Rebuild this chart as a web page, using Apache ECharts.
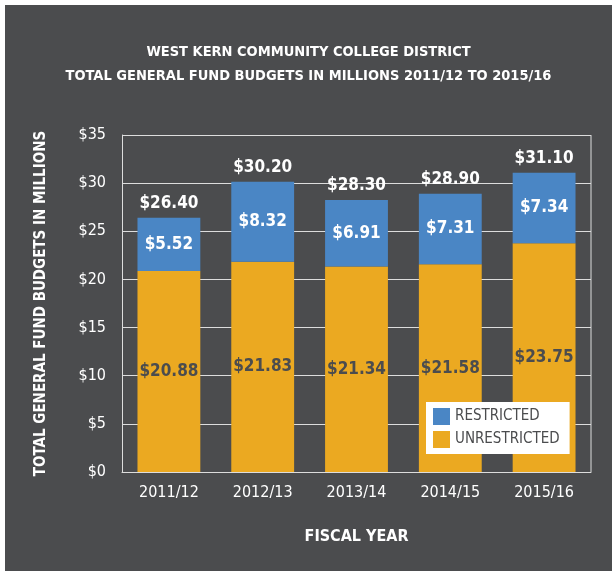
<!DOCTYPE html>
<html>
<head>
<meta charset="utf-8">
<script src="https://cdn.jsdelivr.net/npm/echarts@6/dist/echarts.min.js"></script>
<style>
  html, body { margin: 0; padding: 0; background: #fff; }
  #main { position: absolute; left: 5px; top: 5px; width: 607px; height: 566px; }
</style>
</head>
<body>
<div id="main"></div>
<script>
const years = ['2011/12', '2012/13', '2013/14', '2014/15', '2015/16']
const unrestricted = [20.88, 21.83, 21.34, 21.58, 23.75]
const restricted = [5.52, 8.32, 6.91, 7.31, 7.34]
const totals = ['26.40', '30.20', '28.30', '28.90', '31.10']

const font = '"DejaVu Sans Condensed", "Liberation Sans Narrow", sans-serif'
const bg = '#4b4c4e'

const chart = echarts.init(document.getElementById('main'))
const option = {
  backgroundColor: bg,
  animation: false,
  textStyle: { fontFamily: font },
  title: {
    text: 'WEST KERN COMMUNITY COLLEGE DISTRICT\nTOTAL GENERAL FUND BUDGETS IN MILLIONS 2011/12 TO 2015/16',
    left: 'center',
    top: 30,
    textStyle: { color: '#fff', fontSize: 14.5, fontWeight: 'bold', fontFamily: font, lineHeight: 24 }
  },
  legend: {
    data: ['RESTRICTED', 'UNRESTRICTED'],
    orient: 'vertical',
    left: 421,
    top: 397,
    backgroundColor: '#fff',
    padding: [6, 10, 6, 7],
    itemGap: 6,
    itemWidth: 17,
    itemHeight: 17,
    icon: 'rect',
    textStyle: { color: '#4b4c4e', fontSize: 15, fontFamily: font }
  },
  grid: { left: 117, right: 21, top: 130, bottom: 99 },
  xAxis: {
    type: 'category',
    data: years,
    name: 'FISCAL YEAR',
    nameLocation: 'middle',
    nameGap: 57,
    nameTextStyle: { color: '#fff', fontSize: 16, fontWeight: 'bold' },
    axisLine: { lineStyle: { color: '#ddd', width: 1 } },
    axisTick: { show: false },
    axisLabel: { color: '#fff', fontSize: 16, margin: 13 }
  },
  yAxis: {
    type: 'value',
    min: 0,
    max: 35,
    interval: 5,
    name: 'TOTAL GENERAL FUND BUDGETS IN MILLIONS',
    nameLocation: 'middle',
    nameGap: 73,
    nameTextStyle: { color: '#fff', fontSize: 15, fontWeight: 'bold' },
    axisLine: { show: true, lineStyle: { color: '#ddd' } },
    axisTick: { show: false },
    splitLine: { lineStyle: { color: '#ddd', width: 1 } },
    axisLabel: { color: '#fff', fontSize: 16, margin: 16, formatter: v => '$' + v }
  },
  series: [
    {
      name: 'UNRESTRICTED',
      type: 'bar',
      stack: 'total',
      barWidth: '67%',
      data: unrestricted,
      itemStyle: { color: '#eba921' },
      label: {
        show: true,
        position: 'inside',
        color: '#4b4c4e',
        fontSize: 17,
        fontWeight: 'bold',
        formatter: p => '$' + p.value.toFixed(2)
      }
    },
    {
      name: 'RESTRICTED',
      type: 'bar',
      stack: 'total',
      data: restricted,
      itemStyle: { color: '#4a86c5' },
      label: {
        show: true,
        position: 'inside',
        color: '#fff',
        fontSize: 17,
        fontWeight: 'bold',
        formatter: p => '$' + p.value.toFixed(2)
      }
    },
    {
      name: 'TOTAL',
      type: 'bar',
      stack: 'total',
      data: totals.map(() => 0),
      itemStyle: { color: 'transparent' },
      label: {
        show: true,
        position: 'top',
        distance: 6,
        color: '#fff',
        fontSize: 17,
        fontWeight: 'bold',
        formatter: p => '$' + totals[p.dataIndex]
      }
    }
  ]
}
chart.setOption(option)
// right border line of the plot area
chart.setOption({
  graphic: [{
    type: 'line',
    shape: { x1: 607 - 21, y1: 130, x2: 607 - 21, y2: 566 - 99 },
    style: { stroke: '#ddd', lineWidth: 1 }
  }]
})
</script>
</body>
</html>
